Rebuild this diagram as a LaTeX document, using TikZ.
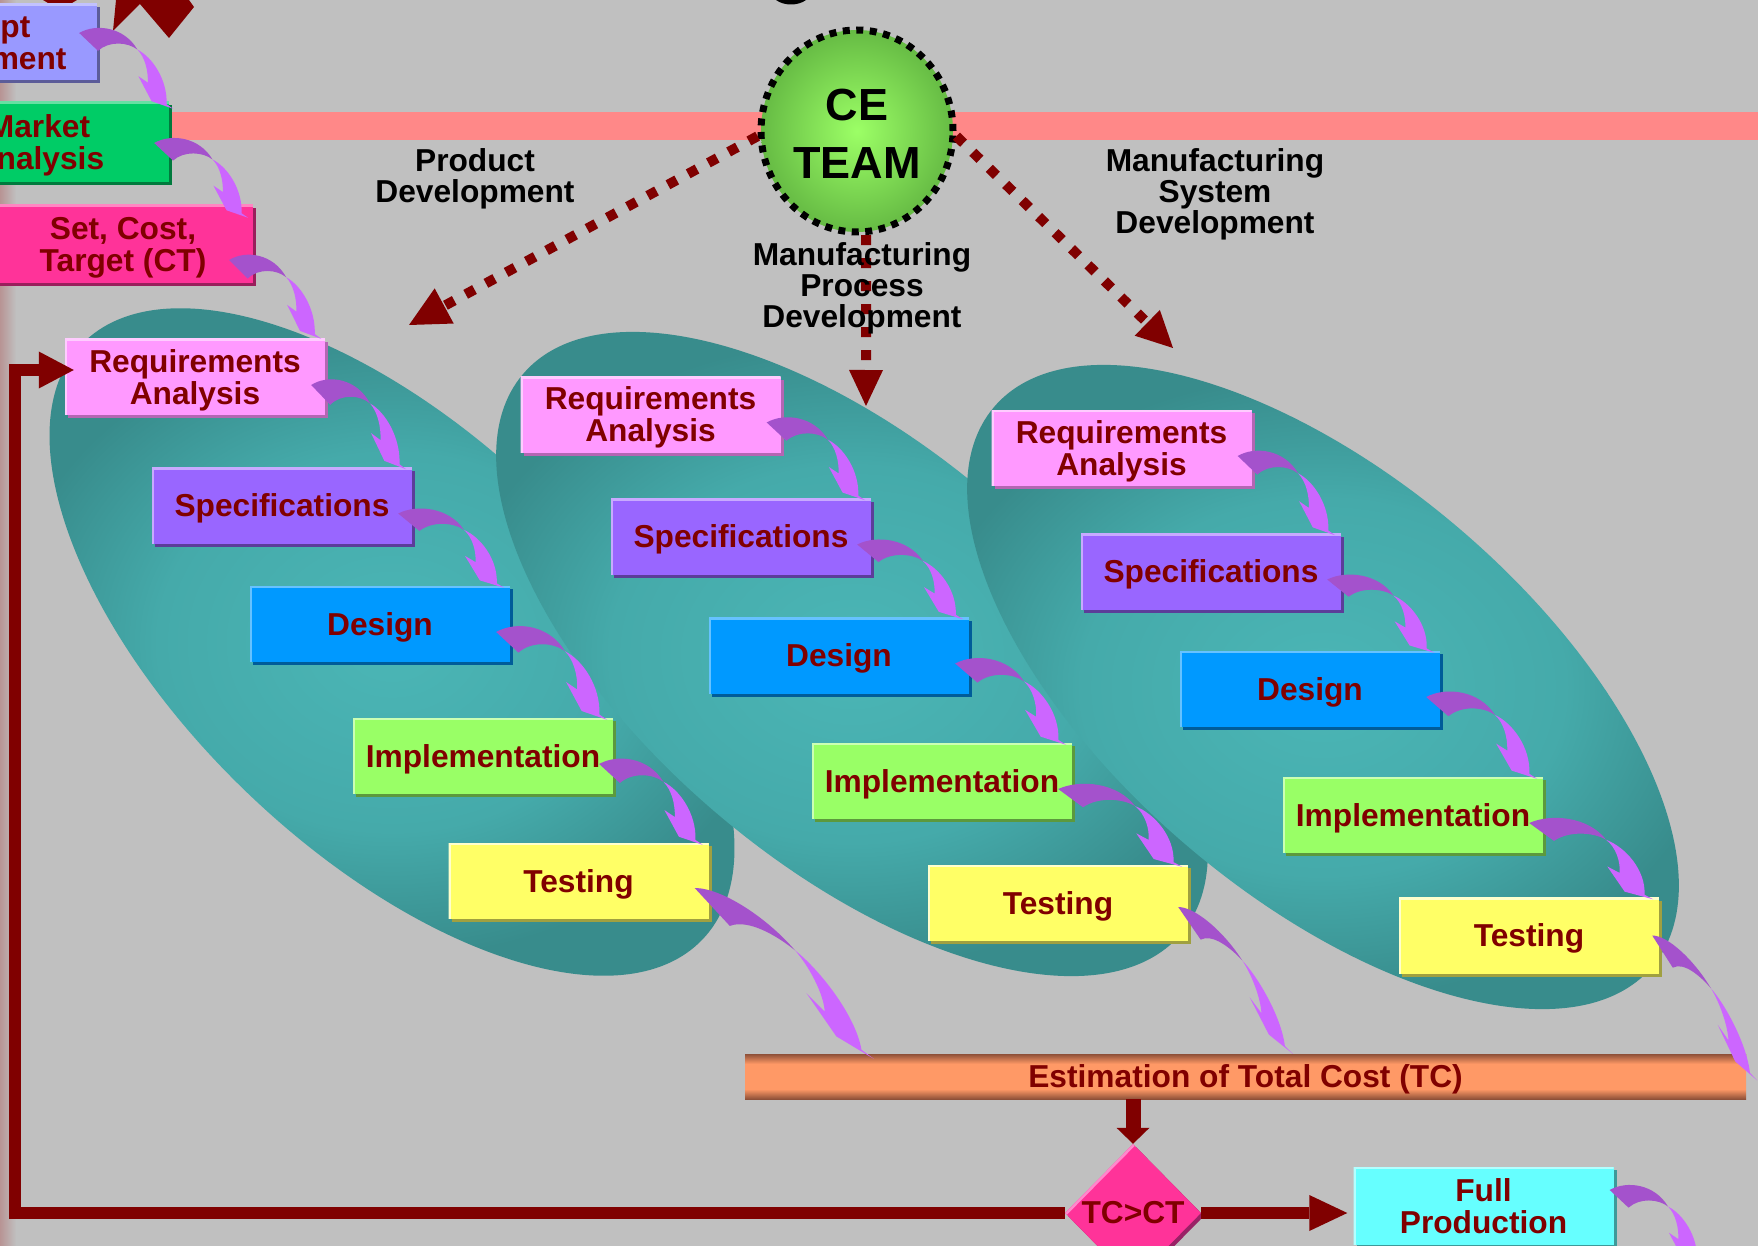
\documentclass[tikz,border=0pt]{standalone}
\usepackage{fontspec}
\setmainfont{Liberation Sans}
\usetikzlibrary{arrows.meta,calc,shapes.geometric,shadows}

% palette
\definecolor{bggray}{HTML}{C0C0C0}
\definecolor{txtred}{HTML}{800000}
\definecolor{dkred}{HTML}{800000}
\definecolor{salmon}{HTML}{FF8888}
\definecolor{edgeL}{HTML}{B89494}
\definecolor{reqF}{HTML}{FF99FF}\definecolor{reqL}{HTML}{FFCCFF}\definecolor{reqD}{HTML}{B366B3}
\definecolor{specF}{HTML}{9966FF}\definecolor{specL}{HTML}{C8AAFF}\definecolor{specD}{HTML}{5C3D99}
\definecolor{desF}{HTML}{0099FF}\definecolor{desL}{HTML}{66C2FF}\definecolor{desD}{HTML}{005C99}
\definecolor{impF}{HTML}{99FF66}\definecolor{impL}{HTML}{CCFFB3}\definecolor{impD}{HTML}{5C993D}
\definecolor{tstF}{HTML}{FFFF66}\definecolor{tstL}{HTML}{FFFFCC}\definecolor{tstD}{HTML}{A0A040}
\definecolor{conF}{HTML}{9999FF}\definecolor{conL}{HTML}{C2C2FF}\definecolor{conD}{HTML}{5C5C99}
\definecolor{mktF}{HTML}{00CC66}\definecolor{mktL}{HTML}{66E0A3}\definecolor{mktD}{HTML}{007A3D}
\definecolor{setF}{HTML}{FF3399}\definecolor{setL}{HTML}{FF85C2}\definecolor{setD}{HTML}{991F5C}
\definecolor{fullF}{HTML}{66FFFF}\definecolor{fullL}{HTML}{B3FFFF}\definecolor{fullD}{HTML}{3D9999}
\definecolor{diaF}{HTML}{FF3399}\definecolor{diaL}{HTML}{FF88CC}\definecolor{diaD}{HTML}{992266}
\definecolor{tealA}{HTML}{4BB6B6}
\definecolor{tealB}{HTML}{45AAAA}
\definecolor{tealC}{HTML}{388C8C}
\definecolor{ceIn}{HTML}{9CFF66}
\definecolor{ceOut}{HTML}{66BB44}
\definecolor{copperD}{HTML}{8E5038}
\definecolor{copperL}{HTML}{FF9966}
\definecolor{arrowdark}{HTML}{A452CC}
\definecolor{arrowlight}{HTML}{CC66FF}

\pgfdeclareradialshading{tealfill}{\pgfpoint{0bp}{0bp}}{color(0bp)=(tealA); color(15bp)=(tealB); color(25bp)=(tealC); color(50bp)=(tealC)}
\pgfdeclareverticalshading{copper}{100bp}{color(0bp)=(copperD); color(25bp)=(copperD); color(36bp)=(copperL); color(64bp)=(copperL); color(75bp)=(copperD); color(100bp)=(copperD)}

\newcommand\boxfont{\fontsize{31.7pt}{32pt}\selectfont\bfseries}
\newcommand\lblfont{\fontsize{31.7pt}{31pt}\selectfont\bfseries}
\newcommand\cefont{\fontsize{45pt}{58pt}\selectfont\bfseries}

% short curved ribbon arrow from a tail point to a tip point
\newcommand\bendarrow[2]{%
  \fill[arrowlight] let \p1=#1, \p2=#2, \n1={\x2-\x1}, \n2={\y2-\y1} in
    ({\x1+0.62*(\n1)},{\y1+0.22*(\n2)})
    .. controls ({\x1+0.78*(\n1)},{\y1+0.32*(\n2)}) and ({\x1+0.94*(\n1)},{\y1+0.62*(\n2)})
    .. ({\x1+0.93*(\n1)},{\y1+0.94*(\n2)})
    -- (\p2)
    -- ({\x1+0.77*(\n1)},{\y1+0.90*(\n2)})
    -- ({\x1+0.63*(\n1)},{\y1+0.57*(\n2)})
    -- ({\x1+0.73*(\n1)},{\y1+0.655*(\n2)})
    .. controls ({\x1+0.735*(\n1)},{\y1+0.50*(\n2)}) and ({\x1+0.70*(\n1)},{\y1+0.32*(\n2)})
    .. ({\x1+0.62*(\n1)},{\y1+0.22*(\n2)}) -- cycle;
  \fill[arrowdark] let \p1=#1, \p2=#2, \n1={\x2-\x1}, \n2={\y2-\y1} in
    (\p1)
    .. controls ({\x1+0.18*(\n1)},{\y1-0.13*(\n2)}) and ({\x1+0.48*(\n1)},{\y1-0.08*(\n2)})
    .. ({\x1+0.62*(\n1)},{\y1+0.22*(\n2)})
    .. controls ({\x1+0.52*(\n1)},{\y1+0.12*(\n2)}) and ({\x1+0.32*(\n1)},{\y1+0.10*(\n2)})
    .. ({\x1+0.20*(\n1)},{\y1+0.235*(\n2)}) -- cycle;
}
% longer, flatter ribbon arrow
\newcommand\longbendarrow[2]{%
  \fill[arrowlight] let \p1=#1, \p2=#2, \n1={\x2-\x1}, \n2={\y2-\y1} in
    ({\x1+0.56*(\n1)},{\y1+0.365*(\n2)})
    .. controls ({\x1+0.70*(\n1)},{\y1+0.48*(\n2)}) and ({\x1+0.90*(\n1)},{\y1+0.75*(\n2)})
    .. ({\x1+0.931*(\n1)},{\y1+0.947*(\n2)})
    -- (\p2)
    -- ({\x1+0.791*(\n1)},{\y1+0.869*(\n2)})
    -- ({\x1+0.624*(\n1)},{\y1+0.616*(\n2)})
    -- ({\x1+0.726*(\n1)},{\y1+0.723*(\n2)})
    .. controls ({\x1+0.72*(\n1)},{\y1+0.62*(\n2)}) and ({\x1+0.64*(\n1)},{\y1+0.46*(\n2)})
    .. ({\x1+0.56*(\n1)},{\y1+0.365*(\n2)}) -- cycle;
  \fill[arrowdark] let \p1=#1, \p2=#2, \n1={\x2-\x1}, \n2={\y2-\y1} in
    (\p1)
    .. controls ({\x1+0.15*(\n1)},{\y1+0.0*(\n2)}) and ({\x1+0.40*(\n1)},{\y1+0.17*(\n2)})
    .. ({\x1+0.56*(\n1)},{\y1+0.365*(\n2)})
    .. controls ({\x1+0.46*(\n1)},{\y1+0.28*(\n2)}) and ({\x1+0.30*(\n1)},{\y1+0.18*(\n2)})
    .. ({\x1+0.196*(\n1)},{\y1+0.222*(\n2)}) -- cycle;
}

\begin{document}
\begin{tikzpicture}[x=1pt,y=-1pt,
  stepbox/.style={minimum width=260pt, minimum height=76pt, inner sep=0pt,
    align=center, text=txtred, font=\boxfont, text depth=0pt},
  tint/.style n args={3}{fill=#1,
    general shadow={shadow xshift=3pt, shadow yshift=-3pt, fill=#3},
    path picture={\draw[#2, line width=4pt] (path picture bounding box.south west)
      |- (path picture bounding box.north east);}},
  lbl/.style={align=center, font=\lblfont, text=black, inner sep=0pt, text depth=0pt},
  dotline/.style={draw=dkred, line width=10pt, dash pattern=on 10pt off 13pt},
  redline/.style={draw=dkred},
  ellipsefill/.style={shade, shading=tealfill}]

\useasboundingbox (0,0) rectangle (1758,1246);
\clip (0,0) rectangle (1758,1246);
\fill[bggray] (0,0) rectangle (1758,1246);
\shade[left color=edgeL, right color=bggray] (0,0) rectangle (16,1246);

% fragments reaching in from above
\fill[dkred] (116,0) -- (113,31) -- (140,4) -- (169,38) -- (194,7) -- (189,0) -- cycle;
\fill[dkred] (43,0) -- (77,0) -- (72,3) -- (48,3) -- cycle;
\fill[black] (776,0) .. controls (784,6) and (798,6) .. (806,0) -- cycle;

% timeline band
\fill[salmon] (0,112) rectangle (1758,140);

% the three development streams
\path[ellipsefill, rotate around={-43.8:(392,642)}] (392,642) ellipse [x radius=430, y radius=209];
\path[ellipsefill, rotate around={-40.4:(852,654)}] (852,654) ellipse [x radius=432, y radius=209];
\path[ellipsefill, rotate around={-40.4:(1323,687)}] (1323,687) ellipse [x radius=432, y radius=209];

% CE team and its three dotted links
\node[ellipse, minimum width=192pt, minimum height=202pt, inner sep=0pt,
  inner color=ceIn, outer color=ceOut,
  draw=black, line width=7pt, dash pattern=on 7pt off 6.5pt,
  align=center, font=\cefont, text height=96pt] (ce) at (857,131) {CE\\TEAM};
\coordinate (pdtip) at (409,325);
\coordinate (mptip) at (866,406);
\coordinate (mstip) at (1173,348);
\draw[dotline, -{Triangle[length=40pt,width=40pt,line width=0pt]}] (ce.183) -- (pdtip);
\draw[dotline, -{Triangle[length=36pt,width=34pt,line width=0pt]}] (ce.-85) -- (mptip);
\draw[dotline, -{Triangle[length=36pt,width=36pt,line width=0pt]}] (ce.-3) -- (mstip);

\node[lbl] (pdlab) at (475,176) {Product\\Development};
\node[lbl] (mplab) at (862,285) {Manufacturing\\Process\\Development};
\node[lbl] (mslab) at (1215,191) {Manufacturing\\System\\Development};

% upstream steps
\node[stepbox, tint={conF}{conL}{conD}] (con) at (-33,42) {Concept\\Development};
\node[stepbox, minimum height=80pt, tint={mktF}{mktL}{mktD}] (mkt) at (39,142) {Market\\Analysis};
\node[stepbox, minimum height=78pt, tint={setF}{setL}{setD}] (set) at (123,244) {Set, Cost,\\Target (CT)};

% stream A
\node[stepbox, tint={reqF}{reqL}{reqD}] (reqA) at (195,377) {Requirements\\Analysis};
\node[stepbox, tint={specF}{specL}{specD}] (specA) at (282,505.5) {Specifications};
\node[stepbox, tint={desF}{desL}{desD}] (desA) at (380,624) {Design};
\node[stepbox, tint={impF}{impL}{impD}] (impA) at (483,756) {Implementation};
\node[stepbox, tint={tstF}{tstL}{tstD}] (tstA) at (578.5,881) {Testing};
% stream B
\node[stepbox, tint={reqF}{reqL}{reqD}] (reqB) at (650.5,414.5) {Requirements\\Analysis};
\node[stepbox, tint={specF}{specL}{specD}] (specB) at (741,536.5) {Specifications};
\node[stepbox, tint={desF}{desL}{desD}] (desB) at (839,655.5) {Design};
\node[stepbox, tint={impF}{impL}{impD}] (impB) at (942,781) {Implementation};
\node[stepbox, tint={tstF}{tstL}{tstD}] (tstB) at (1058,903) {Testing};
% stream C
\node[stepbox, tint={reqF}{reqL}{reqD}] (reqC) at (1121.5,448) {Requirements\\Analysis};
\node[stepbox, tint={specF}{specL}{specD}] (specC) at (1211,571.5) {Specifications};
\node[stepbox, tint={desF}{desL}{desD}] (desC) at (1310,689) {Design};
\node[stepbox, tint={impF}{impL}{impD}] (impC) at (1413,815) {Implementation};
\node[stepbox, tint={tstF}{tstL}{tstD}] (tstC) at (1529,935.5) {Testing};

% cost estimation and decision
\node[shade, shading=copper, minimum width=1001pt, minimum height=45pt, inner sep=0pt,
  text=txtred, font=\boxfont, text depth=0pt] (bar) at (1245.5,1076.5) {Estimation of Total Cost (TC)};
\node[diamond, aspect=1, minimum width=136pt, minimum height=138pt, inner sep=0pt,
  fill=diaF, general shadow={shadow xshift=3pt, shadow yshift=-3pt, fill=diaD},
  path picture={\draw[diaL, line width=5pt] (path picture bounding box.west)
    -- (path picture bounding box.north);},
  text=txtred, font=\boxfont] (dia) at (1133,1213) {TC>CT};
\node[stepbox, minimum height=78pt, tint={fullF}{fullL}{fullD}] (full) at (1483.5,1206) {Full\\Production};

% decision connectors
\coordinate (fbx) at (15,0);
\coordinate (fbin) at ($(reqA.west)+(9,-7)$);
\draw[redline, line width=15pt, -{Triangle[length=16pt,width=33pt,line width=0pt]}]
  (bar.south -| dia.north) -- (dia.north);
\draw[redline, line width=12pt, -{Triangle[length=35pt,width=37pt,line width=0pt]}]
  (dia.west) -- (dia.west -| fbx) |- (fbin);
\draw[redline, line width=12pt, -{Triangle[length=38pt,width=36pt,line width=0pt]}]
  (dia.east) -- ($(dia.east -| full.west)+(-6,0)$);

% ribbon arrows between steps
\bendarrow{($(con.east)+(-18,-9)$)}{($(mkt.north east)+(4,7)$)}
\bendarrow{($(mkt.east)+(-15,1)$)}{($(set.north east)+(-5,13)$)}
\bendarrow{($(set.east)+(-24,16)$)}{($(reqA.north east)+(-4,0)$)}
\foreach \col in {A,B,C}{
  \bendarrow{($(req\col.east)+(-14,8)$)}{($(spec\col.north east)+(-6,2)$)}
  \bendarrow{($(spec\col.east)+(-14,8)$)}{($(des\col.north east)+(-6,2)$)}
  \bendarrow{($(des\col.east)+(-14,8)$)}{($(imp\col.north east)+(-6,2)$)}
  \bendarrow{($(imp\col.east)+(-14,8)$)}{($(tst\col.north east)+(-6,2)$)}
}
\coordinate (barinA) at ($(bar.north west)+(129,5)$);
\coordinate (barinB) at ($(bar.north west)+(548,0)$);
\coordinate (barinC) at ($(bar.east)+(11,4)$);
\coordinate (fullout) at ($(full.east)+(90,59)$);
\longbendarrow{($(tstA.east)+(-14,7)$)}{(barinA)}
\longbendarrow{($(tstB.east)+(-10,4)$)}{(barinB)}
\longbendarrow{($(tstC.east)+(-7,0)$)}{(barinC)}
\bendarrow{($(full.east)+(-4,-16)$)}{(fullout)}

\end{tikzpicture}
\end{document}
